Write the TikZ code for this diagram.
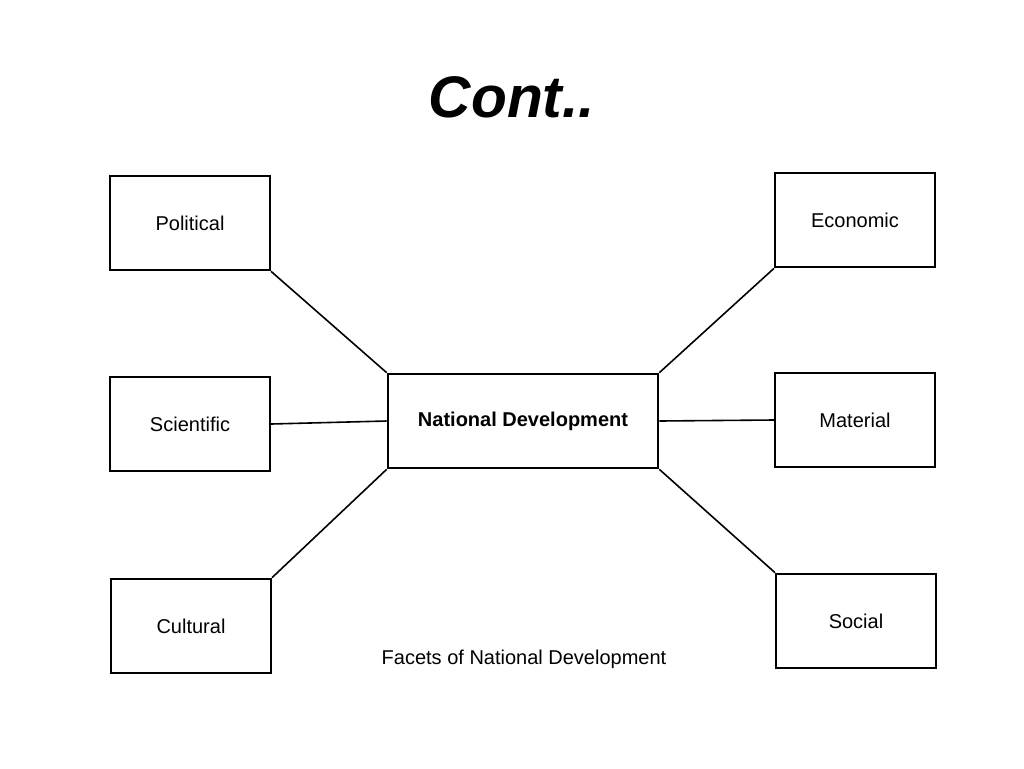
\documentclass[tikz,border=0pt]{standalone}
\usepackage{fontspec}
\setmainfont{Liberation Sans}
\begin{document}
\begin{tikzpicture}[x=0.75pt,y=-0.75pt,
  box/.style={draw,line width=1.5pt,minimum width=120pt,minimum height=71pt,inner sep=0pt,font=\fontsize{15}{18}\selectfont},
  link/.style={line width=1.2pt}]
\useasboundingbox (0,0) rectangle (1024,768);
\node[font=\fontsize{44}{50}\selectfont\bfseries\itshape] (title) at (512,97) {Cont..};
\node[box] (pol) at (190,223) {Political};
\node[box] (sci) at (190,424) {Scientific};
\node[box] (cul) at (191,626) {Cultural};
\node[box] (eco) at (855,220) {Economic};
\node[box] (mat) at (855,420) {Material};
\node[box] (soc) at (856,621) {Social};
\node[box,minimum width=203pt,font=\fontsize{15}{18}\selectfont\bfseries] (nd) at (523,421) {National Development};
\node[font=\fontsize{15}{18}\selectfont] (cap) at (524,659) {Facets of National Development};
\draw[link] (pol.south east) -- (nd.north west);
\draw[link] (sci.east) -- (nd.west);
\draw[link] (cul.north east) -- (nd.south west);
\draw[link] (eco.south west) -- (nd.north east);
\draw[link] (mat.west) -- (nd.east);
\draw[link] (soc.north west) -- (nd.south east);
\end{tikzpicture}
\end{document}
